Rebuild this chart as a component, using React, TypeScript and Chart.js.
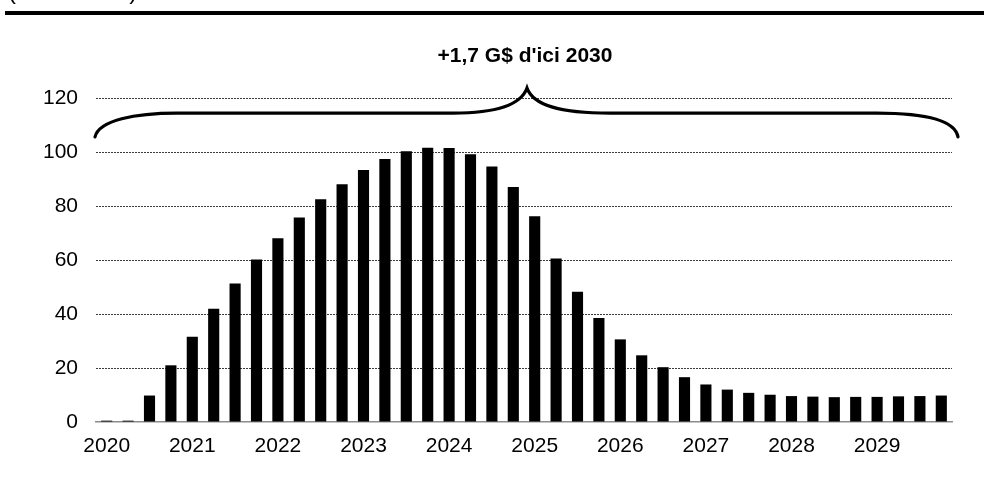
import React, { useEffect, useRef } from "react";
import { Chart, registerables } from "chart.js";

Chart.register(...registerables);

const quarters = [
  "2020 T1", "2020 T2", "2020 T3", "2020 T4",
  "2021 T1", "2021 T2", "2021 T3", "2021 T4",
  "2022 T1", "2022 T2", "2022 T3", "2022 T4",
  "2023 T1", "2023 T2", "2023 T3", "2023 T4",
  "2024 T1", "2024 T2", "2024 T3", "2024 T4",
  "2025 T1", "2025 T2", "2025 T3", "2025 T4",
  "2026 T1", "2026 T2", "2026 T3", "2026 T4",
  "2027 T1", "2027 T2", "2027 T3", "2027 T4",
  "2028 T1", "2028 T2", "2028 T3", "2028 T4",
  "2029 T1", "2029 T2", "2029 T3", "2029 T4",
];

const values = [
  0.5, 0.5, 9.8, 21.0,
  31.6, 41.9, 51.3, 60.2,
  68.1, 75.7, 82.5, 88.1,
  93.3, 97.4, 100.3, 101.6,
  101.5, 99.2, 94.6, 87.0,
  76.2, 60.6, 48.2, 38.5,
  30.6, 24.7, 20.3, 16.6,
  13.9, 12.0, 10.8, 10.1,
  9.6, 9.4, 9.2, 9.3,
  9.3, 9.5, 9.6, 9.8,
];

const yearLabels = ["2020", "2021", "2022", "2023", "2024", "2025", "2026", "2027", "2028", "2029"];

const titleText = "+1,7 G$ d'ici 2030";
const unitText = "(en millions)";

const FONT = '"Liberation Sans", Arial, Helvetica, sans-serif';

const overlay = {
  id: "overlay",
  afterDraw(chart: any) {
    const { ctx, chartArea, scales } = chart;
    const y = scales.y;
    ctx.save();
    // top rule
    ctx.fillStyle = "#000";
    ctx.fillRect(5, 11, chart.width - 5, 4);
    // cut-off unit text
    ctx.font = `24px ${FONT}`;
    ctx.textAlign = "left";
    ctx.textBaseline = "alphabetic";
    ctx.fillText(unitText, 8, -1);
    // title
    ctx.font = `bold 21px ${FONT}`;
    ctx.textAlign = "center";
    ctx.textBaseline = "middle";
    const cx = (chartArea.left + chartArea.right) / 2;
    ctx.fillText(titleText, cx + 1, 56);
    // brace
    const L = chartArea.left - 1;
    const R = chartArea.right + 6;
    const px = cx + 3;
    const yEnd = y.getPixelForValue(105.6);
    const yFlat = y.getPixelForValue(114.4);
    const yPeak = y.getPixelForValue(123.7);
    ctx.strokeStyle = "#000";
    ctx.lineWidth = 3.2;
    ctx.lineCap = "round";
    ctx.lineJoin = "miter";
    ctx.beginPath();
    ctx.moveTo(L, yEnd);
    ctx.bezierCurveTo(L + 4, yFlat + 7, L + 40, yFlat, L + 82, yFlat);
    ctx.lineTo(px - 74, yFlat);
    ctx.bezierCurveTo(px - 32, yFlat, px - 6, yFlat - 8, px, yPeak);
    ctx.bezierCurveTo(px + 6, yFlat - 8, px + 32, yFlat, px + 83, yFlat);
    ctx.lineTo(R - 81, yFlat);
    ctx.bezierCurveTo(R - 30, yFlat, R - 3, yFlat + 8, R, yEnd);
    ctx.stroke();
    ctx.restore();
  },
};

export default function App() {
  const ref = useRef<HTMLCanvasElement | null>(null);

  useEffect(() => {
    if (!ref.current) return;
    const chart = new Chart(ref.current, {
      type: "bar",
      data: {
        labels: quarters,
        datasets: [
          {
            data: values,
            backgroundColor: "#000",
            borderWidth: 0,
            categoryPercentage: 1,
            barPercentage: 0.52,
          },
        ],
      },
      options: {
        responsive: false,
        animation: false,
        layout: { padding: { top: 98, right: 32, left: 0, bottom: 0 } },
        plugins: {
          legend: { display: false },
          tooltip: { enabled: false },
          title: { display: false },
        },
        scales: {
          x: {
            afterFit: (s: any) => {
              s.height = 62;
            },
            grid: { display: false, drawTicks: false },
            border: { display: true, color: "#8c8c8c", width: 1.5 },
            ticks: {
              autoSkip: false,
              maxRotation: 0,
              padding: 12,
              color: "#000",
              font: { family: FONT, size: 21 },
              callback: (_v: any, i: number) => (i % 4 === 0 ? yearLabels[i / 4] : ""),
            },
          },
          y: {
            min: 0,
            max: 120,
            afterFit: (s: any) => {
              s.width = 96;
            },
            grid: {
              drawTicks: false,
              color: (c: any) => (c.tick && c.tick.value === 0 ? "rgba(0,0,0,0)" : "#3a3a3a"),
              lineWidth: 1,
            },
            border: { display: false, dash: [2, 1] },
            ticks: {
              stepSize: 20,
              padding: 18,
              color: "#000",
              font: { family: FONT, size: 21 },
            },
          },
        },
      },
      plugins: [overlay],
    });
    return () => chart.destroy();
  }, []);

  return (
    <canvas
      ref={ref}
      width={984}
      height={484}
      style={{ position: "absolute", left: 0, top: 0, width: 984, height: 484 }}
    />
  );
}
